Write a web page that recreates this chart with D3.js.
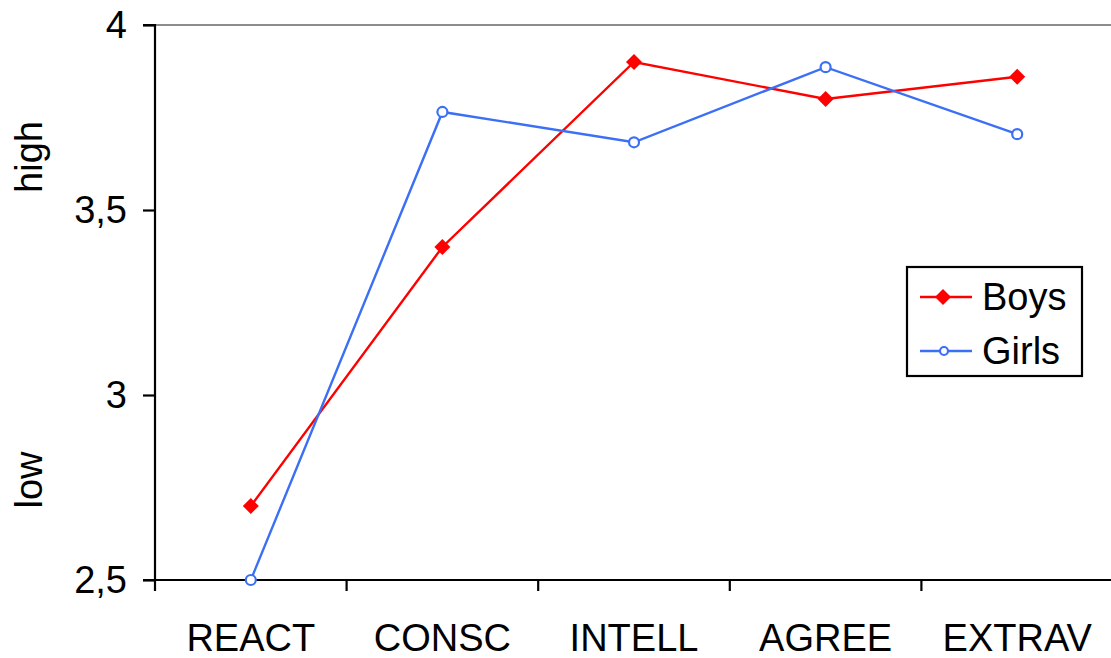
<!DOCTYPE html>
<html><head><meta charset="utf-8">
<script src="https://cdn.jsdelivr.net/npm/d3@7"></script>
<style>body{margin:0;background:#fff}svg{display:block}text{font-family:"Liberation Sans",Arial,sans-serif;fill:#000}</style>
</head><body><svg id="c" width="1111" height="658"></svg>
<script>
const categories = ["REACT","CONSC","INTELL","AGREE","EXTRAV"];
const boys = [2.70, 3.40, 3.90, 3.80, 3.86];
const girls = [2.50, 3.765, 3.683, 3.886, 3.705];
const yTicks = [2.5, 3, 3.5, 4];
const yTickLabels = ["2,5", "3", "3,5", "4"];
const seriesNames = ["Boys", "Girls"];

const svg = d3.select("#c");
const L = 155, R = 1113, T = 25, B = 580;
const x = d3.scaleBand().domain(categories).range([L, R]);
const y = d3.scaleLinear().domain([2.5, 4]).range([B, T]);
const fs = 38;

// top gridline
svg.append("line").attr("x1", L).attr("x2", 1111).attr("y1", y(4)).attr("y2", y(4))
  .attr("stroke", "#8c8c8c").attr("stroke-width", 2.2);

// y axis
const ya = svg.append("g").attr("transform", `translate(${L},0)`)
  .call(d3.axisLeft(y).tickValues(yTicks).tickFormat((d,i)=>yTickLabels[i]).tickSize(12).tickPadding(16));
ya.select(".domain").attr("stroke","#000").attr("stroke-width",2.2).attr("d", `M-12,${B}H0V${T}H-12`);
ya.selectAll(".tick line").attr("stroke","#000").attr("stroke-width",2.2);
ya.selectAll(".tick text").attr("font-size", fs).attr("font-family","Liberation Sans, Arial, sans-serif").attr("fill","#000");

// x axis
const xa = svg.append("g").attr("transform", `translate(0,${B})`)
  .call(d3.axisBottom(x).tickSize(0).tickPadding(44));
xa.select(".domain").remove();
xa.selectAll(".tick text").attr("font-size", fs).attr("font-family","Liberation Sans, Arial, sans-serif").attr("fill","#000");
svg.append("line").attr("x1", L-12).attr("x2", 1111).attr("y1", B).attr("y2", B).attr("stroke","#000").attr("stroke-width",2.2);
const bounds = categories.map(c => x(c)).concat([x(categories[categories.length-1]) + x.bandwidth()]);
svg.selectAll(".xt").data(bounds).enter().append("line")
  .attr("x1", d=>d).attr("x2", d=>d).attr("y1", B).attr("y2", B+11)
  .attr("stroke","#000").attr("stroke-width",2.2);

// side labels
svg.append("text").attr("transform", `translate(42,157) rotate(-90)`).attr("text-anchor","middle").attr("font-size", fs).text("high");
svg.append("text").attr("transform", `translate(42,480) rotate(-90)`).attr("text-anchor","middle").attr("font-size", fs).text("low");

const cx = c => x(c) + x.bandwidth()/2;
const line = d3.line().x((d,i)=>cx(categories[i])).y(d=>y(d));
const red = "#ff0000", blue = "#3b6ff5";

svg.append("path").datum(boys).attr("d", line).attr("fill","none").attr("stroke", red).attr("stroke-width", 2.4);
svg.append("path").datum(girls).attr("d", line).attr("fill","none").attr("stroke", blue).attr("stroke-width", 2.4);

function dia(g, px, py){
  g.append("path").attr("d","M0,-8L8,0L0,8L-8,0Z").attr("transform",`translate(${px},${py})`).attr("fill",red);
}
function circ(g, px, py){
  g.append("circle").attr("cx",px).attr("cy",py).attr("r",5).attr("fill","#fff").attr("stroke",blue).attr("stroke-width",2.2);
}
const mk = svg.append("g");
boys.forEach((v,i)=>dia(mk, cx(categories[i]), y(v)));
girls.forEach((v,i)=>circ(mk, cx(categories[i]), y(v)));

// legend
const lg = svg.append("g");
lg.append("rect").attr("x",907).attr("y",267).attr("width",175).attr("height",109).attr("fill","#fff").attr("stroke","#000").attr("stroke-width",2.2);
const ly = [297, 351];
lg.append("line").attr("x1",920).attr("x2",972).attr("y1",ly[0]).attr("y2",ly[0]).attr("stroke",red).attr("stroke-width",2.4);
dia(lg, 943, ly[0]);
lg.append("line").attr("x1",920).attr("x2",972).attr("y1",ly[1]).attr("y2",ly[1]).attr("stroke",blue).attr("stroke-width",2.4);
lg.append("circle").attr("cx",944).attr("cy",ly[1]).attr("r",4).attr("fill","#fff").attr("stroke",blue).attr("stroke-width",2.2);
seriesNames.forEach((n,i)=>lg.append("text").attr("x",982).attr("y",ly[i]+13).attr("font-size",fs).text(n));
</script></body></html>
